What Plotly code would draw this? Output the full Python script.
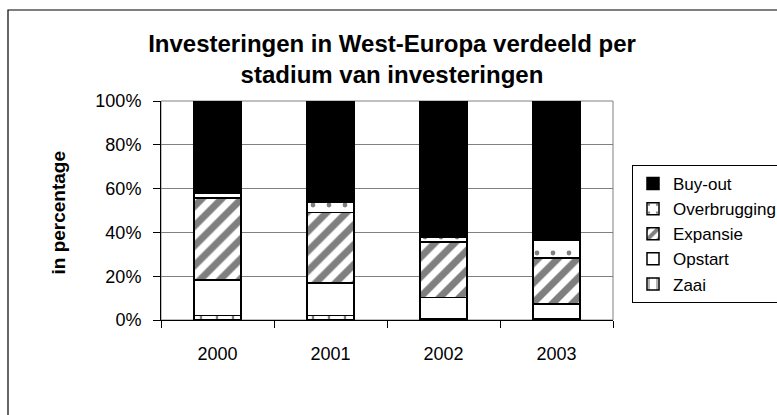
import plotly.graph_objects as go

years = ["2000", "2001", "2002", "2003"]
zaai = [2.0, 2.0, 0.7, 0.8]
opstart = [16.3, 15.0, 9.5, 6.5]
expansie = [37.3, 32.2, 25.5, 21.1]
overbrugging = [2.5, 4.7, 2.3, 7.8]
buyout = [41.9, 46.1, 62.0, 63.8]

series = [
    ("Zaai", zaai, dict(shape="|", size=16, solidity=0.15, fgcolor="black", bgcolor="white"), 5),
    ("Opstart", opstart, None, 4),
    ("Expansie", expansie, dict(shape="/", size=14, solidity=0.5, fgcolor="black", bgcolor="white"), 3),
    ("Overbrugging", overbrugging, dict(shape=".", size=16, solidity=0.07, fgcolor="black", bgcolor="white"), 2),
    ("Buy-out", buyout, None, 1),
]

fig = go.Figure()
for name, vals, pat, rank in series:
    color = "black" if name == "Buy-out" else "white"
    marker = dict(color=color, line=dict(color="black", width=1.5))
    if pat:
        marker["pattern"] = pat
    fig.add_trace(go.Bar(name=name, x=years, y=vals, marker=marker,
                         legendrank=rank, legendgroup=name))

W, H = 777, 415
L, R, T, B = 161, 164, 101, 95
pw, ph = W - L - R, H - T - B

def px_x(p):
    return (p - L) / pw

def px_y(p):
    return (H - B - p) / ph

fig.update_layout(
    width=W, height=H,
    margin=dict(l=L, r=R, t=T, b=B, pad=0, autoexpand=False),
    barmode="stack", bargap=0.58,
    paper_bgcolor="white", plot_bgcolor="white",
    font=dict(family="Liberation Sans, Arial, sans-serif", size=18, color="black"),
    title=dict(text="<b>Investeringen in West-Europa verdeeld per<br>stadium van investeringen</b>",
               x=px_x(392), xanchor="center", xref="paper",
               y=1 - 52 / H, yanchor="middle", yref="container",
               font=dict(size=24, color="black")),
    showlegend=True,
    legend=dict(x=px_x(632), xanchor="left", y=px_y(165), yanchor="top",
                traceorder="grouped", tracegroupgap=0, itemwidth=30,
                bordercolor="black", borderwidth=1, bgcolor="white",
                font=dict(size=17), itemclick=False),
    xaxis=dict(showline=True, linecolor="black", linewidth=1,
               ticks="outside", ticklen=7, tickcolor="black", tickson="boundaries",
               showgrid=False, ticklabelstandoff=17, fixedrange=True),
    yaxis=dict(range=[0, 100], tickvals=[0, 20, 40, 60, 80, 100],
               ticktext=["0%", "20%", "40%", "60%", "80%", "100%"],
               showline=True, linecolor="black", linewidth=1,
               ticks="outside", ticklen=7, tickcolor="black",
               showgrid=True, gridcolor="#808080", gridwidth=1,
               zeroline=False, ticklabelstandoff=8, fixedrange=True),
    annotations=[dict(text="<b>in percentage</b>", textangle=-90,
                      x=px_x(45), y=px_y(213), xref="paper", yref="paper",
                      showarrow=False, font=dict(size=19))],
    shapes=[
        dict(type="rect", xref="paper", yref="paper", x0=0, x1=1, y0=0, y1=1,
             line=dict(color="#808080", width=1), layer="below"),
        dict(type="rect", xref="paper", yref="paper",
             x0=px_x(8), x1=px_x(800), y0=px_y(430), y1=px_y(10),
             line=dict(color="black", width=1.2), layer="below"),
    ],
)

fig.write_html("out.html")
